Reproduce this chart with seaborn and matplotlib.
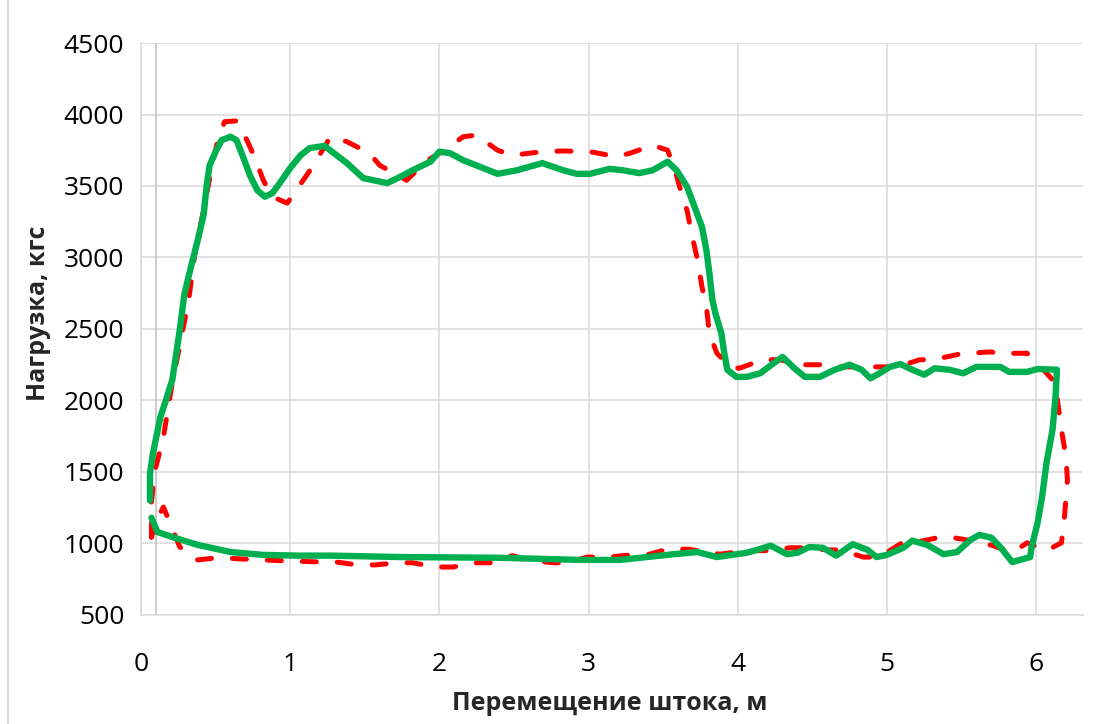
import pandas as pd
import seaborn as sns
import matplotlib.pyplot as plt
from matplotlib.lines import Line2D

# Зелёная кривая (сплошная): перемещение, м / нагрузка, кгс
green_x = [0.06, 0.06, 0.08, 0.13, 0.16, 0.21, 0.23, 0.26, 0.29, 0.33, 0.38, 0.42, 0.44, 0.46,
           0.50, 0.54, 0.60, 0.64, 0.68, 0.73, 0.78, 0.83, 0.88, 0.93, 1.00, 1.07, 1.13, 1.23,
           1.38, 1.49, 1.65, 1.74, 1.82, 1.94, 2.00, 2.07, 2.16, 2.27, 2.39, 2.52, 2.69, 2.83,
           2.92, 3.01, 3.14, 3.23, 3.34, 3.43, 3.53, 3.59, 3.66, 3.71, 3.76, 3.79, 3.81, 3.83,
           3.85, 3.89, 3.91, 3.93, 3.99, 4.06, 4.15, 4.24, 4.30, 4.38, 4.45, 4.55, 4.65, 4.75,
           4.83, 4.89, 4.95, 5.02, 5.09, 5.17, 5.25, 5.32, 5.42, 5.51, 5.60, 5.76, 5.82, 5.94,
           6.01, 6.14, 6.13, 6.11, 6.07, 6.04, 6.01, 5.97, 5.96, 5.89, 5.84, 5.76, 5.70, 5.62,
           5.56, 5.47, 5.38, 5.27, 5.17, 5.11, 5.00, 4.93, 4.87, 4.77, 4.66, 4.57, 4.48, 4.40,
           4.33, 4.22, 4.13, 4.06, 3.86, 3.73, 3.57, 3.39, 3.21, 2.94, 2.41, 1.74, 1.27, 1.05,
           0.82, 0.60, 0.38, 0.21, 0.11, 0.07]
green_y = [1300, 1490, 1630, 1885, 1980, 2145, 2285, 2495, 2740, 2915, 3120, 3300, 3505, 3645,
           3740, 3820, 3845, 3820, 3715, 3575, 3470, 3425, 3450, 3520, 3625, 3715, 3765, 3780,
           3660, 3555, 3520, 3565, 3610, 3670, 3740, 3730, 3680, 3635, 3585, 3610, 3660, 3610,
           3585, 3585, 3620, 3610, 3590, 3610, 3670, 3610, 3495, 3355, 3215, 3050, 2890, 2705,
           2610, 2470, 2330, 2215, 2165, 2165, 2190, 2260, 2305, 2225, 2165, 2165, 2215, 2250,
           2215, 2155, 2190, 2235, 2255, 2215, 2180, 2225, 2215, 2190, 2235, 2235, 2200, 2200,
           2220, 2215, 2025, 1795, 1565, 1325, 1145, 975, 905, 885, 870, 975, 1040, 1060,
           1025, 940, 925, 990, 1020, 970, 920, 905, 955, 995, 915, 970, 975, 935,
           925, 985, 955, 935, 905, 940, 925, 905, 885, 885, 900, 905, 915, 915,
           920, 940, 990, 1045, 1080, 1180]

# Красная кривая (пунктир)
red_x = [0.07, 0.07, 0.07, 0.09, 0.15, 0.21, 0.26, 0.32, 0.36, 0.41, 0.48, 0.51, 0.56, 0.64,
         0.71, 0.76, 0.82, 0.88, 0.98, 1.05, 1.15, 1.27, 1.38, 1.53, 1.60, 1.78, 1.92, 2.02,
         2.16, 2.25, 2.39, 2.49, 2.69, 2.83, 3.01, 3.19, 3.28, 3.43, 3.53, 3.58, 3.61, 3.66,
         3.69, 3.73, 3.76, 3.79, 3.81, 3.86, 3.95, 4.01, 4.17, 4.28, 4.44, 4.55, 4.71, 4.80,
         4.95, 5.07, 5.22, 5.31, 5.49, 5.69, 5.76, 5.94, 6.01, 6.11, 6.14, 6.17, 6.20, 6.21,
         6.19, 6.17, 6.07, 5.94, 5.84, 5.71, 5.62, 5.42, 5.34, 5.20, 5.11, 4.95, 4.84, 4.69,
         4.60, 4.44, 4.35, 4.20, 4.06, 3.88, 3.67, 3.53, 3.39, 3.28, 3.14, 2.99, 2.86, 2.76,
         2.59, 2.49, 2.34, 2.25, 2.09, 1.98, 1.82, 1.72, 1.57, 1.45, 1.31, 1.22, 0.93, 0.71,
         0.51, 0.38, 0.26, 0.15, 0.10, 0.07]
red_y = [1045, 1165, 1285, 1495, 1745, 2125, 2390, 2705, 3020, 3285, 3660, 3800, 3950, 3955,
         3820, 3705, 3540, 3425, 3380, 3485, 3635, 3845, 3810, 3730, 3645, 3540, 3680, 3740,
         3845, 3855, 3750, 3715, 3740, 3745, 3740, 3705, 3730, 3785, 3750, 3610, 3495, 3330,
         3170, 2985, 2795, 2655, 2470, 2330, 2235, 2225, 2285, 2285, 2250, 2250, 2235, 2235,
         2235, 2235, 2285, 2285, 2325, 2340, 2330, 2330, 2260, 2145, 2025, 1795, 1605, 1445,
         1185, 1005, 950, 1005, 935, 985, 1010, 1045, 1040, 1010, 1010, 905, 905, 955,
         955, 970, 970, 950, 950, 925, 960, 960, 920, 920, 905, 905, 865, 865,
         885, 915, 865, 865, 835, 835, 865, 865, 850, 850, 870, 870, 880, 890,
         900, 885, 975, 1255, 1150, 1045]

x_ticks = [0, 1, 2, 3, 4, 5, 6]
y_ticks = [500, 1000, 1500, 2000, 2500, 3000, 3500, 4000, 4500]

df_red = pd.DataFrame({'x': red_x, 'y': red_y})
df_green = pd.DataFrame({'x': green_x, 'y': green_y})

sns.set_theme(style='white')
plt.rcParams['font.family'] = ['Open Sans', 'DejaVu Sans']

fig, ax = plt.subplots(figsize=(11.13, 7.24), dpi=100)
fig.subplots_adjust(left=0.1267, right=0.973, top=0.9406, bottom=0.1506)

# сетка как в Excel
ax.set_xticks(x_ticks)
ax.set_yticks(y_ticks)
ax.grid(True, color='#D9D9D9', linewidth=1.1)
ax.axvline(0.1, color='#BFBFBF', linewidth=1.1, zorder=1)

sns.lineplot(data=df_red, x='x', y='y', sort=False, estimator=None, ax=ax,
             color='#FF0000', linewidth=3.6, zorder=3)
ax.lines[-1].set_dashes((2.8, 4.2))
ax.lines[-1].set_dash_capstyle('round')
ax.lines[-1].set_dash_joinstyle('round')
sns.lineplot(data=df_green, x='x', y='y', sort=False, estimator=None, ax=ax,
             color='#00B050', linewidth=4.6, zorder=4)
ax.lines[-1].set_solid_capstyle('round')
ax.lines[-1].set_solid_joinstyle('round')

ax.set_xlim(0, 6.314)
ax.set_ylim(500, 4500)

for side in ['top', 'right']:
    ax.spines[side].set_visible(False)
for side in ['left', 'bottom']:
    ax.spines[side].set_color('#D9D9D9')
    ax.spines[side].set_linewidth(1.1)

ax.tick_params(axis='both', length=0, labelsize=19, colors='black')
ax.tick_params(axis='y', pad=12)
ax.tick_params(axis='x', pad=27)

ax.set_xlabel('Перемещение штока, м', fontsize=18, fontweight='bold')
ax.set_ylabel('Нагрузка, кгс', fontsize=18, fontweight='bold')
ax.xaxis.set_label_coords(0.498, -0.154)
ax.xaxis.label.set_va('center')
ax.yaxis.set_label_coords(-0.109, 0.528)
ax.yaxis.label.set_va('center')

# рамка области диаграммы слева
fig.add_artist(Line2D([8 / 1113, 8 / 1113], [0, 1], transform=fig.transFigure,
                      color='#D9D9D9', linewidth=1.5))

plt.savefig('out.png', dpi=100)
